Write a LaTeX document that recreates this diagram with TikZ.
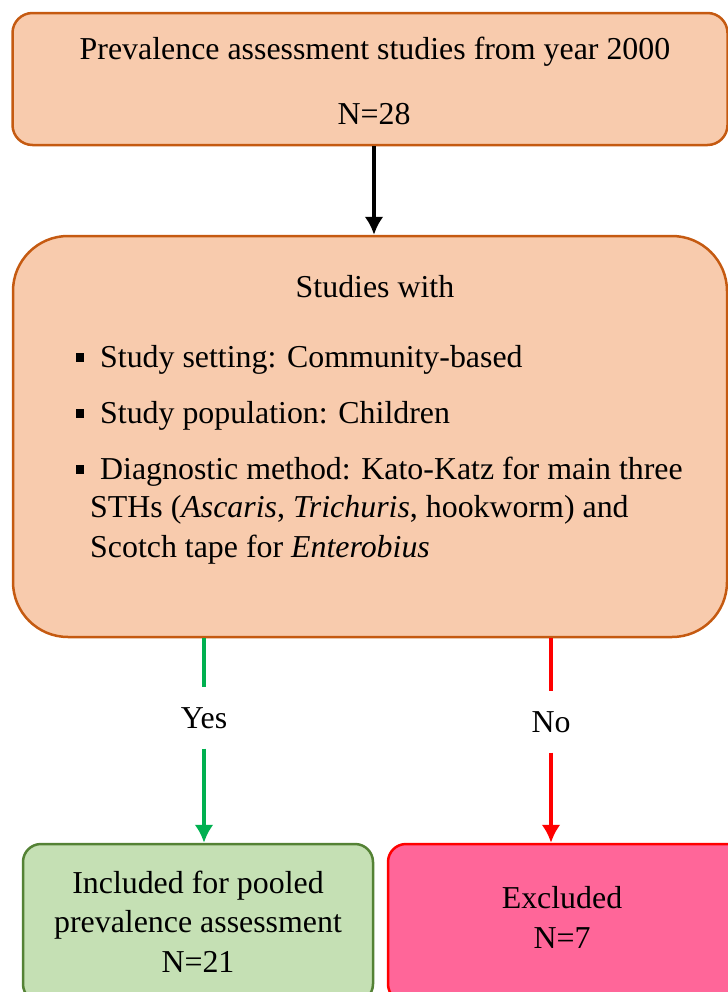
\documentclass[tikz,border=0pt]{standalone}
\usepackage{fontspec}
\setmainfont{Liberation Serif}
\usetikzlibrary{arrows.meta}
\definecolor{boxorange}{HTML}{F8CBAD}
\definecolor{edgeorange}{HTML}{C55A11}
\definecolor{boxgreen}{HTML}{C5E0B4}
\definecolor{edgegreen}{HTML}{548235}
\definecolor{boxpink}{HTML}{FF6699}
\definecolor{arrgreen}{HTML}{00B050}
\definecolor{arrred}{HTML}{FF0000}
\tikzset{
  obox/.style={draw=edgeorange,fill=boxorange,line width=2.5bp,rounded corners=20bp,inner sep=0pt},
  gbox/.style={draw=edgegreen,fill=boxgreen,line width=2.5bp,rounded corners=18bp,inner sep=0pt},
  pbox/.style={draw=arrred,fill=boxpink,line width=2.5bp,rounded corners=18bp,inner sep=0pt},
  txt/.style={inner sep=0pt,anchor=base,font=\fontsize{32}{39}\selectfont},
  itm/.style={txt,anchor=base west},
  arr/.style={line width=4.5bp},
}
\newcommand{\sqbullet}{\rule[5bp]{8bp}{9bp}\hspace{16bp}}
\begin{document}
\begin{tikzpicture}[>={Latex[length=18bp,width=19bp]},line join=bevel,]
%%
\useasboundingbox (0bp,0bp) rectangle (728bp,-992bp);
\node (prev) at (370bp,-79bp) [obox,minimum width=715bp,minimum height=132bp] {};
  \node (prev_t1) at (375bp,-59.5bp) [txt] {Prevalence assessment studies from year 2000};
  \node (prev_t2) at (374bp,-124bp) [txt] {N=28};
%
\node (crit) at (370bp,-436.5bp) [obox,rounded corners=55bp,minimum width=714bp,minimum height=401bp] {};
  \node (crit_t0) at (375bp,-297bp) [txt] {Studies with};
  \node (crit_t1) at (76bp,-367bp) [itm] {\sqbullet Study setting: Community-based};
  \node (crit_t2) at (76bp,-423bp) [itm] {\sqbullet Study population: Children};
  \node (crit_t3) at (76bp,-479bp) [itm] {\sqbullet Diagnostic method: Kato-Katz for main three};
  \node (crit_t4) at (90bp,-517bp) [itm] {STHs (\textit{Ascaris}, \textit{Trichuris}, hookworm) and};
  \node (crit_t5) at (90bp,-557bp) [itm] {Scotch tape for \textit{Enterobius}};
%
\node (yes) at (204bp,-728bp) [txt,inner ysep=20bp] {Yes};
\node (no) at (551bp,-732bp) [txt,inner ysep=20bp] {No};
%
\node (incl) at (198bp,-923bp) [gbox,minimum width=350bp,minimum height=158bp] {};
  \node (incl_t1) at (198bp,-893bp) [txt] {Included for pooled};
  \node (incl_t2) at (198bp,-932bp) [txt] {prevalence assessment};
  \node (incl_t3) at (198bp,-972bp) [txt] {N=21};
\node (excl) at (566.5bp,-923bp) [pbox,minimum width=357bp,minimum height=158bp] {};
  \node (excl_t1) at (562bp,-908bp) [txt] {Excluded};
  \node (excl_t2) at (562bp,-948bp) [txt] {N=7};
%
\draw [black,->,arr] (prev.south -| prev_t2) -- (crit.north -| prev_t2);
\draw [arrgreen,arr] (crit.south -| yes) -- (yes.north);
\draw [arrgreen,->,arr] (yes.south) -- (incl.north -| yes);
\draw [arrred,arr] (crit.south -| no) -- (no.north);
\draw [arrred,->,arr] (no.south) -- (excl.north -| no);
%
\end{tikzpicture}
\end{document}
